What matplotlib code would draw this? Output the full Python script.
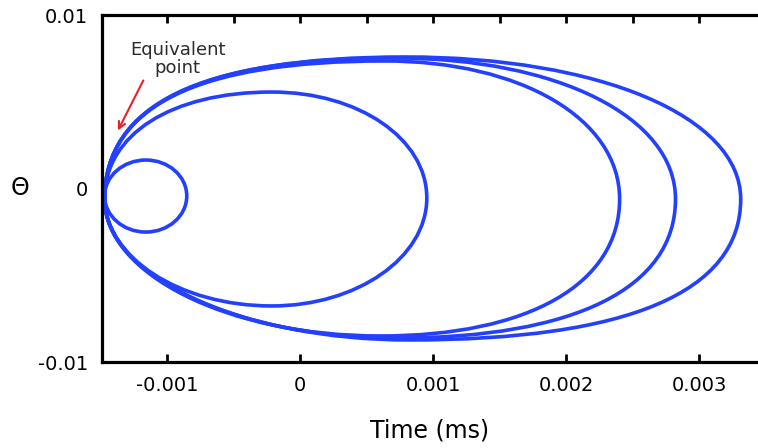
import numpy as np
import matplotlib
matplotlib.use("Agg")
import matplotlib.pyplot as plt
from matplotlib.path import Path
from matplotlib.patches import PathPatch

plt.rcParams['font.family'] = ['DejaVu Sans']

# loop extremes (data units)
left_x  = [-0.00147, -0.00147, -0.00147, -0.00147, -0.00147]
right_x = [-0.000853, 0.000951, 0.00240, 0.00282, 0.00331]
mid_y   = [-0.00043, -0.00055, -0.00061, -0.00061, -0.00061]
top_x   = [-0.00116, -0.000214, 0.000635, 0.00071, 0.00079]
top_y   = [0.00164, 0.00556, 0.00735, 0.00752, 0.00758]
bot_x   = [-0.00116, -0.000214, 0.00060, 0.00072, 0.00082]
bot_y   = [-0.00251, -0.00677, -0.00850, -0.00862, -0.00873]
# fullness of each quarter: upper-left, upper-right, lower-right, lower-left
fullness = [
    [0.5523, 0.5523, 0.5523, 0.5523],
    [0.60, 0.56, 0.55, 0.55],
    [0.67, 0.58, 0.62, 0.55],
    [0.67, 0.58, 0.64, 0.55],
    [0.67, 0.58, 0.66, 0.55],
]

x_ticks = [-0.001, 0, 0.001, 0.002, 0.003]
x_ticklabels = ['-0.001', '0', '0.001', '0.002', '0.003']
x_minor = [-0.001, -0.0005, 0, 0.0005, 0.001, 0.0015, 0.002, 0.0025, 0.003]
y_ticks = [-0.01, 0, 0.01]
y_ticklabels = ['-0.01', '0', '0.01']

BLUE = '#2340ff'


def loop_path(xl, xr, yc, xt, yt, xb, yb, k):
    kul, kur, klr, kll = k
    verts = [
        (xl, yc),
        (xl, yc + kul * (yt - yc)), (xt - kul * (xt - xl), yt), (xt, yt),
        (xt + kur * (xr - xt), yt), (xr, yc + kur * (yt - yc)), (xr, yc),
        (xr, yc - klr * (yc - yb)), (xb + klr * (xr - xb), yb), (xb, yb),
        (xb - kll * (xb - xl), yb), (xl, yc - kll * (yc - yb)), (xl, yc),
    ]
    codes = [Path.MOVETO] + [Path.CURVE4] * 12
    return Path(verts, codes)


fig = plt.figure(figsize=(7.58, 4.48), dpi=100)
ax = fig.add_axes([102 / 758, 1 - 362 / 448, 1 - 102 / 758, 347 / 448])

for i in range(len(left_x)):
    p = loop_path(left_x[i], right_x[i], mid_y[i], top_x[i], top_y[i],
                  bot_x[i], bot_y[i], fullness[i])
    ax.add_patch(PathPatch(p, facecolor='none', edgecolor=BLUE, lw=2.6))

ax.set_xlim(-0.00149, 0.00344)
ax.set_ylim(-0.01, 0.01)

ax.set_xticks(x_ticks)
ax.set_xticklabels(x_ticklabels)
ax.set_xticks(x_minor, minor=True)
ax.set_yticks(y_ticks)
ax.set_yticklabels(y_ticklabels)

ax.tick_params(axis='x', which='major', direction='in', top=True, bottom=True,
               length=6, width=2, pad=10, labelsize=14, colors='black')
ax.tick_params(axis='x', which='minor', direction='in', top=True, bottom=False,
               length=6, width=2)
ax.tick_params(axis='y', length=0, pad=10, labelsize=14)

for s in ['left', 'top', 'bottom']:
    ax.spines[s].set_linewidth(2.3)
ax.spines['right'].set_visible(False)

ax.set_xlabel('Time (ms)', fontsize=17, labelpad=17)
fig.text(20 / 758, 1 - 188 / 448, 'Θ', ha='center', va='center', fontsize=17)

ax.annotate('', xy=(-0.00138, 0.0032), xytext=(-0.00117, 0.00637),
            arrowprops=dict(arrowstyle='->', color='#e8202a', lw=1.5,
                            mutation_scale=12))
ax.text(-0.00092, 0.00746, 'Equivalent\npoint', ha='center', va='center',
        fontsize=13, color='#2b2b2b', linespacing=1.05)

fig.savefig('out.png', dpi=100)
